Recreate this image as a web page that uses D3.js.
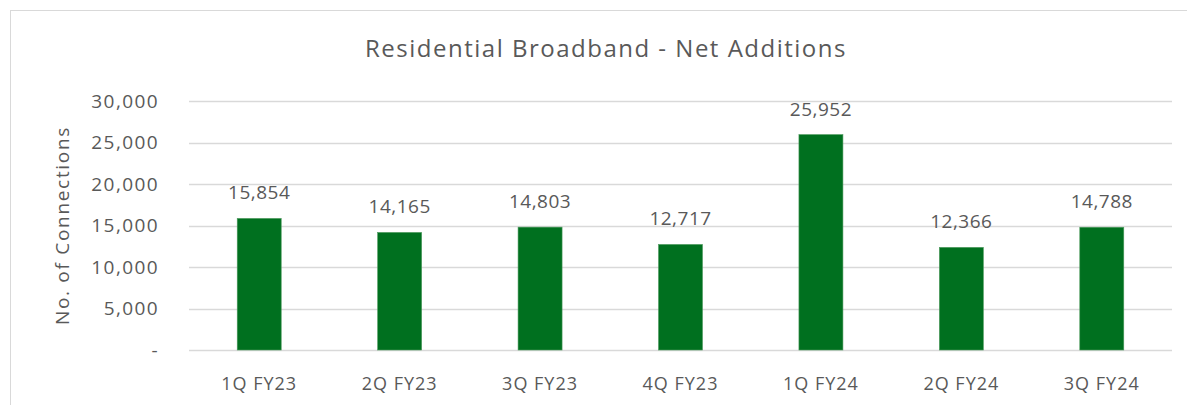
<!DOCTYPE html>
<meta charset="utf-8">
<style>
body { margin: 0; background: #fff; }
text { font-family: "Open Sans", "DejaVu Sans", sans-serif; fill: #595959; }
</style>
<body>
<script src="https://d3js.org/d3.v7.min.js"></script>
<script>

// chart data
var quarters = ["1Q FY23", "2Q FY23", "3Q FY23", "4Q FY23", "1Q FY24", "2Q FY24", "3Q FY24"];
var netAdds = [15854, 14165, 14803, 12717, 25952, 12366, 14788];
var yTicks = [0, 5000, 10000, 15000, 20000, 25000, 30000];

var W = 1187, H = 405;
var plot = {left: 189, right: 1172, top: 101, bottom: 350};

var svg = d3.select("body").append("svg")
    .attr("width", W)
    .attr("height", H);

// outer border
svg.append("rect")
    .attr("x", 10.5).attr("y", 10.5)
    .attr("width", W).attr("height", H)
    .attr("fill", "none")
    .attr("stroke", "#d9d9d9");

var x = d3.scaleBand().domain(quarters).range([plot.left, plot.right]);
var y = d3.scaleLinear().domain([0, 30000]).range([plot.bottom, plot.top]);

// gridlines
svg.selectAll(".grid")
    .data(yTicks)
  .enter().append("line")
    .attr("x1", plot.left).attr("x2", plot.right)
    .attr("y1", d => Math.round(y(d)) + 0.5)
    .attr("y2", d => Math.round(y(d)) + 0.5)
    .attr("stroke", "#d9d9d9")
    .attr("stroke-width", 1.5);

// y tick labels
svg.selectAll(".ytick")
    .data(yTicks)
  .enter().append("text")
    .attr("x", 159)
    .attr("y", d => y(d))
    .attr("dy", "0.35em")
    .attr("text-anchor", "end")
    .style("font-size", "19px")
    .style("letter-spacing", "1.4px")
    .text(d => d === 0 ? "-" : d3.format(",")(d));

// bars
var bw = 44;
svg.selectAll(".bar")
    .data(netAdds)
  .enter().append("rect")
    .attr("x", (d, i) => x(quarters[i]) + x.bandwidth() / 2 - bw / 2)
    .attr("width", bw)
    .attr("y", d => y(d))
    .attr("height", d => y(0) - y(d))
    .attr("fill", "#00701f")
    .attr("stroke", "#4e9a5e")
    .attr("stroke-width", 0.6);

// data labels
svg.selectAll(".lbl")
    .data(netAdds)
  .enter().append("text")
    .attr("x", (d, i) => x(quarters[i]) + x.bandwidth() / 2)
    .attr("y", d => y(d) - 19)
    .attr("text-anchor", "middle")
    .style("font-size", "19px")
    .style("letter-spacing", "0.5px")
    .text(d => d3.format(",")(d));

// x labels
svg.selectAll(".xlbl")
    .data(quarters)
  .enter().append("text")
    .attr("x", d => x(d) + x.bandwidth() / 2)
    .attr("y", 390)
    .attr("text-anchor", "middle")
    .style("font-size", "18px")
    .style("letter-spacing", "1px")
    .text(d => d);

// title
svg.append("text")
    .attr("x", 606)
    .attr("y", 57)
    .attr("text-anchor", "middle")
    .style("font-size", "24px")
    .style("letter-spacing", "1.5px")
    .text("Residential Broadband - Net Additions");

// y axis title
svg.append("text")
    .attr("transform", "translate(69," + ((plot.top + plot.bottom) / 2) + ") rotate(-90)")
    .attr("text-anchor", "middle")
    .style("font-size", "19px")
    .style("letter-spacing", "1.7px")
    .text("No. of Connections");

</script>
</body>
